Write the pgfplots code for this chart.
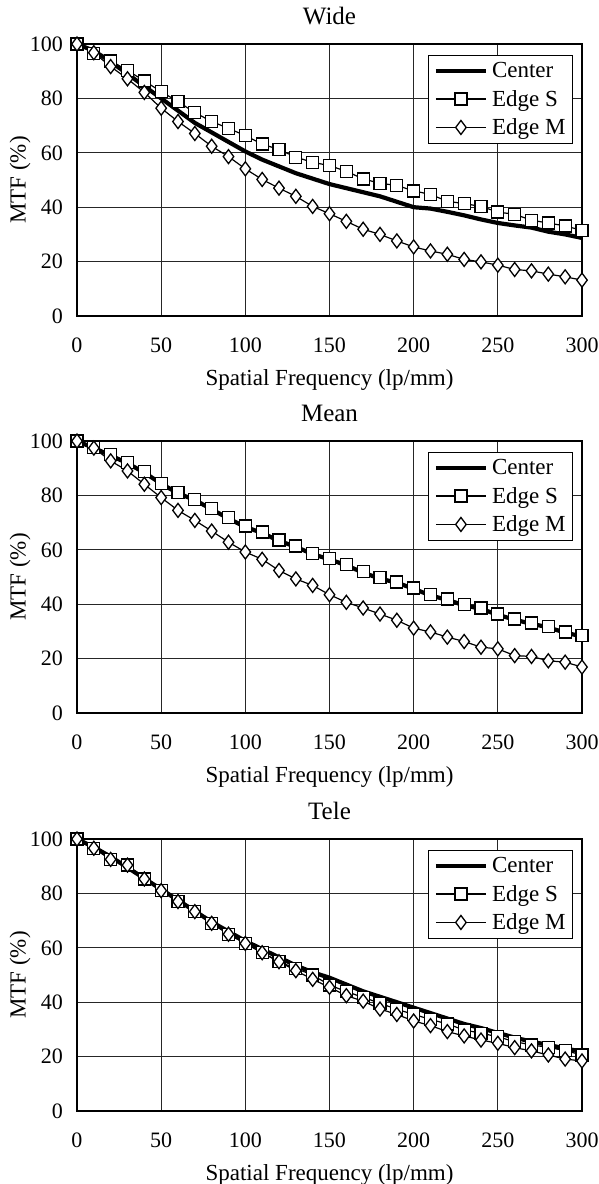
\documentclass[border=0pt]{standalone}
\usepackage{fontspec}
\setmainfont{Liberation Serif}
\usepackage{pgfplots}
\pgfplotsset{compat=1.18}
\newcommand{\fs}{\fontsize{22}{26}\selectfont}
\newcommand{\fl}{\fontsize{23}{27}\selectfont}
\pgfplotsset{
 mtf/.style={
  scale only axis, width=505pt, height=272pt,
  xmin=0,xmax=300,ymin=0,ymax=100,
  xtick={0,50,...,300}, ytick={0,20,...,100},
  grid=major, major grid style={black!85, line width=0.9pt},
  axis line style={line width=1.3pt},
  tick style={draw=none},
  /pgf/number format/assume math mode=true,
  xticklabel style={font=\fs, anchor=center, yshift=-29pt},
  yticklabel style={font=\fs, anchor=east, inner sep=0pt, xshift=-14pt},
  xlabel={Spatial Frequency (lp/mm)},
  ylabel={MTF (\%)},
  xlabel style={font=\fl, at={(axis description cs:0.5,0)}, anchor=center, yshift=-64pt},
  ylabel style={font=\fl, at={(axis description cs:0,0.5)}, anchor=center, yshift=57pt},
  title style={font=\fontsize{25}{29}\selectfont, at={(axis description cs:0.5,1)}, anchor=center, yshift=22pt},
  legend style={at={(1,1)}, anchor=north east, xshift=-9pt, yshift=-11pt, font=\fl, draw=black, line width=1pt, inner sep=5pt, row sep=7pt, column sep=2pt},
  legend cell align=left,
  legend image code/.code={\draw[mark repeat=2,mark phase=2,##1] plot coordinates {(0pt,0pt) (25pt,0pt) (50pt,0pt)};},
 },
 cen/.style={black, line width=4.2pt, no marks},
 eds/.style={black, line width=1.2pt, mark=square*, mark size=6pt, mark options={fill=white, line width=1.3pt}},
 edm/.style={black, line width=1.2pt, mark=diamond*, mark size=7pt, mark options={fill=white, line width=1.3pt}},
}
\begin{document}
\begin{tikzpicture}[x=1pt,y=1pt]
\useasboundingbox (0,0) rectangle (599,-1184);
% ---------------- Wide
\begin{axis}[mtf, title={Wide}, at={(77pt,-316pt)}, anchor=south west]
\addplot[cen] coordinates {(0,100)(10,97.5)(20,93.5)(30,89)(40,84.5)(50,80)(60,75.5)(70,71)(80,67.5)(90,64)(100,60.5)(110,57.5)(120,55)(130,52.5)(140,50.5)(150,48.5)(160,47)(170,45.5)(180,44)(190,42)(200,40)(210,39.5)(220,38.3)(230,37)(240,35.5)(250,34.2)(260,33.3)(270,32.5)(280,31)(290,30)(300,28.7)};
\addplot[eds] coordinates {(0,100)(10,96.6)(20,93.8)(30,90.3)(40,86.4)(50,82.5)(60,78.8)(70,74.8)(80,71.5)(90,69)(100,66.3)(110,63.2)(120,61.2)(130,58.4)(140,56.5)(150,55.3)(160,53.2)(170,50.4)(180,48.8)(190,48)(200,46)(210,44.7)(220,42.2)(230,41.3)(240,40.3)(250,38.2)(260,37.4)(270,35.2)(280,34.2)(290,33.1)(300,31.5)};
\addplot[edm] coordinates {(0,100)(10,96.8)(20,91.7)(30,87.2)(40,82.2)(50,76.4)(60,71.5)(70,67.1)(80,62.4)(90,58.6)(100,54.1)(110,50.2)(120,47)(130,44)(140,40.3)(150,37.6)(160,34.8)(170,31.9)(180,30)(190,27.6)(200,25.4)(210,23.9)(220,22.7)(230,20.8)(240,19.9)(250,18.7)(260,17.1)(270,16.6)(280,15.4)(290,14.4)(300,13.2)};
\legend{Center,Edge S,Edge M}
\end{axis}
% ---------------- Mean
\begin{axis}[mtf, title={Mean}, at={(77pt,-713pt)}, anchor=south west]
\addplot[cen] coordinates {(0,100)(10,97.4)(20,94.7)(30,91.8)(40,88.4)(50,84.3)(60,80.8)(70,78.3)(80,74.9)(90,71.5)(100,68.4)(110,66.2)(120,63.3)(130,61.1)(140,58.4)(150,56.5)(160,54.3)(170,51.6)(180,49.4)(190,47.9)(200,45.7)(210,43.2)(220,41.6)(230,39.6)(240,38.3)(250,36.1)(260,34.3)(270,32.8)(280,31.5)(290,29.5)(300,28.2)};
\addplot[eds] coordinates {(0,100)(10,97.7)(20,95)(30,92.1)(40,88.7)(50,84.5)(60,81.1)(70,78.6)(80,75.2)(90,71.8)(100,68.7)(110,66.5)(120,63.6)(130,61.4)(140,58.7)(150,56.8)(160,54.6)(170,51.9)(180,49.7)(190,48.2)(200,46)(210,43.5)(220,41.9)(230,39.9)(240,38.6)(250,36.4)(260,34.6)(270,33.1)(280,31.8)(290,29.8)(300,28.5)};
\addplot[edm] coordinates {(0,100)(10,97.4)(20,92.7)(30,89)(40,84.1)(50,79.2)(60,74.5)(70,70.8)(80,66.9)(90,62.8)(100,59.2)(110,56.5)(120,52.4)(130,49.3)(140,46.9)(150,43.5)(160,40.7)(170,38.6)(180,36.4)(190,34.1)(200,31.2)(210,29.8)(220,27.9)(230,26.3)(240,24.2)(250,23.6)(260,21.1)(270,20.8)(280,19.2)(290,18.7)(300,16.9)};
\legend{Center,Edge S,Edge M}
\end{axis}
% ---------------- Tele
\begin{axis}[mtf, title={Tele}, at={(77pt,-1111pt)}, anchor=south west]
\addplot[cen] coordinates {(0,100)(10,97)(20,93.5)(30,89.5)(40,85.5)(50,81.5)(60,77.5)(70,73.5)(80,69.5)(90,66)(100,62.5)(110,59.5)(120,56.5)(130,53.5)(140,51)(150,49)(160,46.5)(170,44)(180,42)(190,40)(200,38)(210,36)(220,34)(230,32)(240,30.5)(250,28.7)(260,27)(270,25.5)(280,24.3)(290,23)(300,21.8)};
\addplot[eds] coordinates {(0,100)(10,96.6)(20,92.5)(30,90.4)(40,85.3)(50,81)(60,77)(70,73.3)(80,69)(90,65)(100,61.6)(110,58.2)(120,54.9)(130,52.4)(140,50)(150,46.3)(160,43.9)(170,41.8)(180,39.6)(190,37.4)(200,35.5)(210,33.7)(220,32)(230,29.8)(240,28.6)(250,27.3)(260,25.5)(270,24.3)(280,23.4)(290,22.2)(300,20.6)};
\addplot[edm] coordinates {(0,100)(10,96.6)(20,92.5)(30,90.4)(40,85.3)(50,81)(60,77)(70,73.3)(80,69)(90,65)(100,61.6)(110,58.2)(120,54.9)(130,51.6)(140,48.4)(150,45.5)(160,42.4)(170,40.4)(180,37.5)(190,35.5)(200,33.1)(210,31.4)(220,29.2)(230,27.6)(240,26.1)(250,24.9)(260,23.3)(270,22.1)(280,20.6)(290,19.1)(300,18.4)};
\legend{Center,Edge S,Edge M}
\end{axis}
\end{tikzpicture}
\end{document}
